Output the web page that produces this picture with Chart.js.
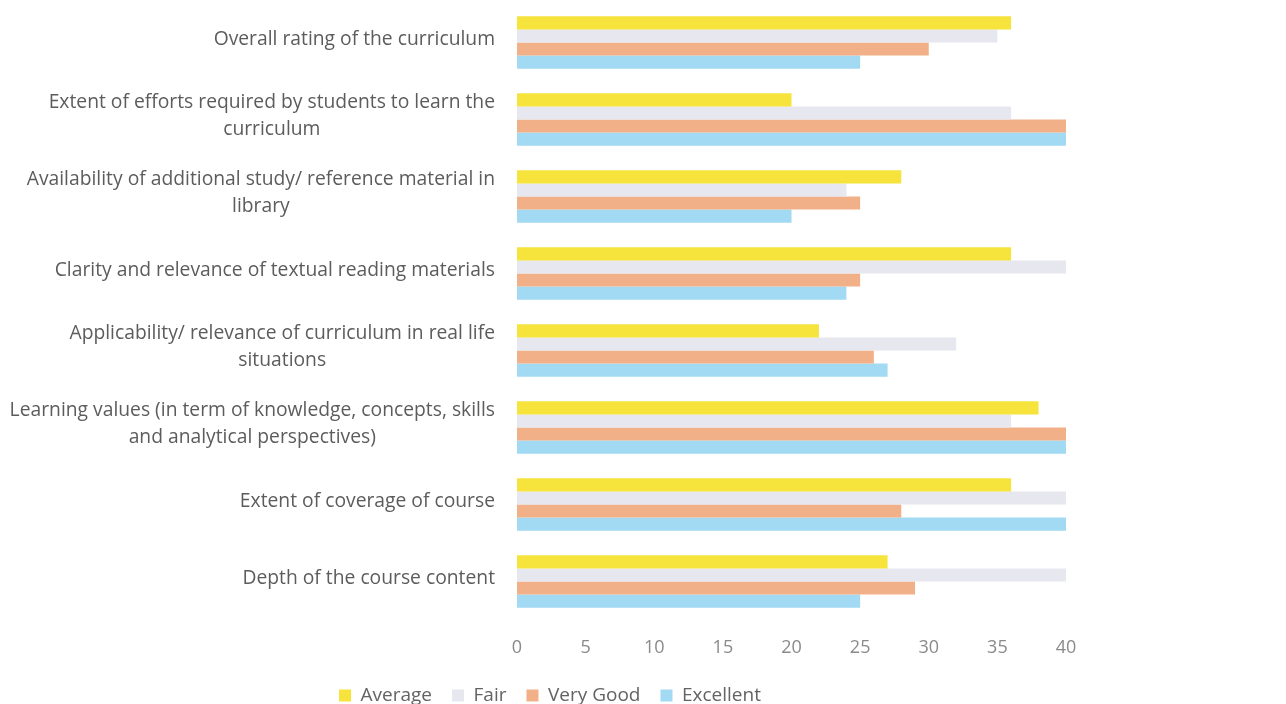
<!DOCTYPE html>
<html lang="en">
<head>
    <meta charset="UTF-8">
    <title>Curriculum feedback</title>
    <style>
        html, body {
            margin: 0;
            padding: 0;
            background: #ffffff;
        }
    </style>
</head>
<body>
    <canvas id="myChart" width="1286" height="704"></canvas>

    <script src="https://cdn.jsdelivr.net/npm/chart.js"></script>

    <script>
        // Data
        const categories = [
            'Overall rating of the curriculum',
            ['Extent of efforts required by students to learn the', 'curriculum'],
            ['Availability of additional study/ reference material in', 'library'],
            'Clarity and relevance of textual reading materials',
            ['Applicability/ relevance of curriculum in real life', 'situations'],
            ['Learning values (in term of knowledge, concepts, skills', 'and analytical perspectives)'],
            'Extent of coverage of course',
            'Depth of the course content'
        ];
        const average = [36, 20, 28, 36, 22, 38, 36, 27];
        const fair = [35, 36, 24, 40, 32, 36, 40, 40];
        const veryGood = [30, 40, 25, 25, 26, 40, 28, 29];
        const excellent = [25, 40, 20, 24, 27, 40, 40, 25];
        const xTicks = [0, 5, 10, 15, 20, 25, 30, 35, 40];

        const labelFont = '19.3px "Open Sans"';

        // category labels: right edge fixed, wrapped lines centred on each other
        const yLabels = {
            id: 'yLabels',
            afterDraw(chart) {
                const ctx = chart.ctx;
                const y = chart.scales.y;
                ctx.save();
                ctx.font = labelFont;
                ctx.fillStyle = '#5c5c5c';
                ctx.textAlign = 'center';
                ctx.textBaseline = 'middle';
                categories.forEach((c, i) => {
                    const lines = [].concat(c);
                    const w = Math.max(...lines.map(l => ctx.measureText(l).width));
                    const cx = chart.chartArea.left - 22 - w / 2;
                    const cy = y.getPixelForTick(i) - 3;
                    lines.forEach((l, j) => {
                        ctx.fillText(l, cx, cy + (j - (lines.length - 1) / 2) * 27);
                    });
                });
                ctx.restore();
            }
        };

        const data = {
            labels: categories,
            datasets: [
                { label: 'Average', data: average, backgroundColor: '#f6e33b' },
                { label: 'Fair', data: fair, backgroundColor: '#e7e7ef' },
                { label: 'Very Good', data: veryGood, backgroundColor: '#f2b088' },
                { label: 'Excellent', data: excellent, backgroundColor: '#a2d9f3' }
            ]
        };

        const config = {
            type: 'bar',
            data: data,
            options: {
                indexAxis: 'y',
                responsive: false,
                animation: false,
                categoryPercentage: 0.68,
                barPercentage: 1.0,
                layout: {
                    padding: { top: 4, right: 220, bottom: -11, left: 34 }
                },
                scales: {
                    y: {
                        grid: { display: false },
                        border: { display: false },
                        ticks: { display: false },
                        afterFit: (s) => { s.width = 483; }
                    },
                    x: {
                        min: 0,
                        max: 40,
                        grid: { display: false, drawTicks: false },
                        border: { display: false },
                        afterBuildTicks: (s) => { s.ticks = xTicks.map(v => ({ value: v })); },
                        ticks: {
                            padding: 17,
                            color: '#8a8a8a',
                            font: { family: 'Open Sans', size: 18 }
                        },
                        afterFit: (s) => { s.height = 46; }
                    }
                },
                plugins: {
                    tooltip: { enabled: false },
                    legend: {
                        position: 'bottom',
                        labels: {
                            boxWidth: 12,
                            boxHeight: 12,
                            padding: 20,
                            color: '#636363',
                            font: { family: 'Open Sans', size: 19 }
                        }
                    }
                }
            },
            plugins: [yLabels]
        };

        new Chart(document.getElementById('myChart'), config);
    </script>
</body>
</html>
